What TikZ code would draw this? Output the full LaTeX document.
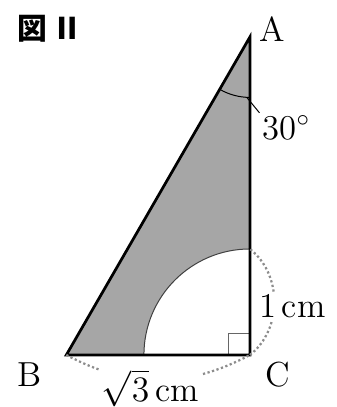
\documentclass[tikz,border=0pt]{standalone}
\usepackage{fontspec}
\usetikzlibrary{calc}
\newfontfamily\cjk{Noto Sans CJK JP}
\begin{document}
\begin{tikzpicture}[x=1.5cm, y=1.5cm,
  edge/.style={line width=1.1pt, line join=miter},
  dimarc/.style={black!45, densely dotted, line width=0.9pt},
  lbl/.style={font=\fontsize{14}{16}\selectfont, inner sep=1pt}]
  % Frame
  \useasboundingbox (-2.358,-0.491) rectangle (0.821,3.349);
  % Vertices
  \coordinate (C) at (0,0);
  \coordinate (A) at (0,3);
  \coordinate (B) at ({-sqrt(3)},0);
  \coordinate (P) at (0,1);
  % Shaded part: triangle minus quarter disc
  \fill[black!35] (B) -- (A) -- (P) arc[start angle=90, end angle=180, radius=1] -- cycle;
  % Quarter circle
  \draw[black!75, thin] (P) arc[start angle=90, end angle=180, radius=1];
  % Right angle mark
  \draw[black!60, thin] (-0.2,0) -- (-0.2,0.2) -- (0,0.2);
  % Triangle
  \draw[edge] (A) -- (B) -- (C) -- cycle;
  % Angle at A
  \draw[thin] (A) ++(240:0.57) arc[start angle=240, end angle=270, radius=0.57];
  \coordinate (T) at ($(A)+(267:0.57)$);
  % Dimension arcs
  \draw[dimarc] (B) to[out=-28, in=-152] (C);
  \draw[dimarc] (C) to[out=38, in=-38] (P);
  % Labels
  \node[lbl] (lA) at (0.21,3.07) {A};
  \node[lbl] (lB) at (-2.075,-0.19) {B};
  \node[lbl] (lC) at (0.26,-0.19) {C};
  \node[lbl, anchor=west] (ang) at (0.09,2.14) {30$^\circ$};
  \draw[thin] (T) -- (ang.north west);
  \node[lbl, fill=white] (lBC) at (-0.94,-0.31) {$\sqrt{3}$\,cm};
  \node[lbl, fill=white] (lCP) at (0.40,0.46) {1\,cm};
  % Figure title
  \node[font=\cjk\bfseries\fontsize{12}{14}\selectfont, inner sep=0pt] (ttl) at (-1.89,3.08) {図\,Ⅱ};
\end{tikzpicture}
\end{document}
